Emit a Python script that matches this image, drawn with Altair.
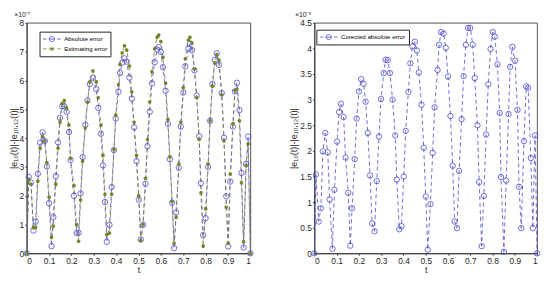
import altair as alt
import pandas as pd

# ---------------- data ----------------
t_left = [0, 0.009, 0.019, 0.03, 0.04, 0.05, 0.06, 0.071, 0.081, 0.09,
          0.1, 0.111, 0.119, 0.13, 0.14, 0.149, 0.158, 0.168, 0.178, 0.189,
          0.196, 0.211, 0.223, 0.232, 0.241, 0.25, 0.262, 0.272, 0.282, 0.296,
          0.311, 0.32, 0.332, 0.341, 0.35, 0.358, 0.37, 0.38, 0.39, 0.398,
          0.41, 0.417, 0.427, 0.437, 0.447, 0.459, 0.47, 0.48, 0.491, 0.501,
          0.51, 0.52, 0.531, 0.54, 0.55, 0.56, 0.572, 0.583, 0.59, 0.6,
          0.609, 0.621, 0.631, 0.64, 0.65, 0.659, 0.668, 0.68, 0.689, 0.7,
          0.709, 0.723, 0.73, 0.739, 0.75, 0.76, 0.771, 0.779, 0.789, 0.8,
          0.811, 0.82, 0.83, 0.841, 0.85, 0.86, 0.872, 0.882, 0.892, 0.901,
          0.91, 0.922, 0.931, 0.94, 0.951, 0.96, 0.97, 0.981, 0.99, 1.0]

abs_err = [0, 2.65, 2.45, 0.79, 1.1, 2.76, 3.84, 4.2, 3.9, 3.02,
           1.74, 0.25, 1.26, 2.68, 3.85, 4.7, 5.1, 5.1, 4.91, 4.21,
           3.24, 2.0, 0.7, 0.72, 2.08, 3.34, 4.46, 5.3, 5.87, 6.1,
           5.7, 5.05, 4.15, 3.05, 1.78, 0.4, 0.99, 2.3, 3.58, 4.68,
           5.61, 6.26, 6.62, 6.77, 6.65, 6.1, 5.37, 4.37, 3.2, 1.86,
           0.48, 0.99, 2.41, 3.72, 4.91, 5.9, 6.63, 7.07, 7.16, 6.99,
           6.46, 5.64, 4.5, 3.27, 1.76, 0.18, 1.42, 2.97, 4.4, 5.58,
           6.49, 7.1, 7.27, 7.05, 6.35, 5.47, 4.06, 2.43, 0.63, 1.22,
           3.0, 4.6, 5.87, 6.71, 6.94, 6.54, 5.56, 4.01, 1.98, 0.24,
           2.49, 4.4, 5.62, 5.92, 4.97, 2.79, 0.2, 3.1, 4.05, 0]

est_err = [0, 2.55, 2.4, 0.9, 0.9, 2.5, 3.65, 4.05, 3.9, 3.15,
           1.95, 0.55, 0.95, 2.4, 3.65, 4.55, 5.2, 5.3, 5.05, 4.45,
           3.3, 2.35, 1.0, 0.42, 1.85, 3.2, 4.35, 5.25, 5.95, 6.33,
           5.95, 5.4, 4.45, 3.4, 2.05, 0.65, 0.7, 2.05, 3.6, 4.8,
           5.85, 6.55, 6.95, 7.2, 7.05, 6.5, 5.6, 4.55, 3.4, 2.0,
           0.45, 1.0, 2.6, 3.95, 5.25, 6.3, 7.1, 7.5, 7.57, 7.35,
           6.8, 5.9, 4.65, 3.35, 1.8, 0.35, 1.25, 3.1, 4.55, 5.75,
           6.75, 7.4, 7.5, 7.3, 6.4, 5.4, 3.95, 2.1, 0.25, 1.55,
           3.1, 4.6, 5.8, 6.6, 6.9, 6.7, 5.5, 3.9, 1.6, 0.35,
           2.75, 4.5, 5.65, 5.7, 4.6, 2.45, 0.4, 3.05, 3.8, 0]

t_right = [0, 0.007, 0.019, 0.029, 0.038, 0.049, 0.06, 0.068, 0.081, 0.09,
           0.102, 0.111, 0.119, 0.131, 0.14, 0.152, 0.161, 0.169, 0.181, 0.19,
           0.2, 0.21, 0.221, 0.23, 0.24, 0.25, 0.259, 0.27, 0.28, 0.29,
           0.299, 0.311, 0.32, 0.329, 0.339, 0.351, 0.363, 0.37, 0.381, 0.391,
           0.401, 0.41, 0.422, 0.431, 0.44, 0.451, 0.46, 0.469, 0.481, 0.491,
           0.5, 0.509, 0.521, 0.531, 0.54, 0.553, 0.56, 0.569, 0.58, 0.59,
           0.6, 0.611, 0.621, 0.63, 0.64, 0.65, 0.661, 0.67, 0.68, 0.69,
           0.7, 0.711, 0.72, 0.732, 0.74, 0.751, 0.761, 0.771, 0.781, 0.791,
           0.801, 0.81, 0.822, 0.832, 0.838, 0.851, 0.861, 0.872, 0.879, 0.889,
           0.901, 0.912, 0.919, 0.929, 0.941, 0.951, 0.96, 0.972, 0.981, 0.991,
           1.0]

cor_err = [0, 1.54, 0.62, 0.88, 1.99, 2.35, 1.97, 1.05, 0.09, 1.24,
           2.18, 2.76, 2.92, 2.66, 1.87, 1.18, 0.15, 0.88, 1.84, 2.63,
           3.16, 3.4, 3.31, 2.96, 2.35, 1.52, 0.58, 0.43, 1.41, 2.28,
           3.01, 3.52, 3.78, 3.77, 3.52, 3.0, 2.3, 1.44, 0.47, 0.53,
           1.5, 2.39, 3.15, 3.71, 4.04, 4.13, 3.96, 3.53, 2.9, 2.06,
           1.11, 0.07, 0.96, 1.96, 2.85, 3.58, 4.07, 4.32, 4.29, 4.01,
           3.45, 2.68, 1.71, 0.62, 0.49, 1.61, 2.62, 3.46, 4.07, 4.4,
           4.4, 4.07, 3.42, 2.5, 1.39, 0.14, 1.12, 2.32, 3.3, 3.99,
           4.32, 4.23, 3.69, 2.74, 1.49, 0.03, 1.42, 2.72, 3.64, 4.03,
           3.76, 2.8, 1.3, 0.49, 2.19, 3.26, 3.23, 1.86, 0.49, 2.3,
           0]

left_names = ["Absolute error", "Estimating error"]
right_names = ["Corected absolute error"]
x_ticks = [0, 0.1, 0.2, 0.3, 0.4, 0.5, 0.6, 0.7, 0.8, 0.9, 1]
y_ticks_left = [0, 1, 2, 3, 4, 5, 6, 7, 8]
y_ticks_right = [0, 0.5, 1, 1.5, 2, 2.5, 3, 3.5, 4, 4.5]
y_title = "|e\u2081\u2080(t)|-|e\u2081\u2080,\u2081\u2082(t)|"

# ---------------- styling ----------------
BLUE = "#4a4acc"
OLIVE_LINE = "#857a3a"
OLIVE_PT = "#70862a"
FONT = "Liberation Sans"
ASTER = "M0,-1L0,1M-0.87,-0.5L0.87,0.5M-0.87,0.5L0.87,-0.5"
LEG_CIRC = ("M-1,0L-0.1,0M0.5,0L2,0M2.6,0L3.5,0"
            "M0.6,0A0.65,0.65,0,1,1,1.9,0A0.65,0.65,0,1,1,0.6,0")
LEG_STAR = ("M-1,0L-0.1,0M0.5,0L2,0M2.6,0L3.5,0"
            "M1.25,-0.6L1.25,0.6M0.73,-0.3L1.77,0.3M0.73,0.3L1.77,-0.3")

df_abs = pd.DataFrame({"t": t_left, "v": abs_err, "series": left_names[0]})
df_est = pd.DataFrame({"t": t_left, "v": est_err, "series": left_names[1]})
df_left = pd.concat([df_abs, df_est], ignore_index=True)
df_cor = pd.DataFrame({"t": t_right, "v": cor_err, "series": right_names[0]})

xenc = alt.X("t:Q", scale=alt.Scale(domain=[0, 1], nice=False),
             axis=alt.Axis(values=x_ticks, format="~g", title="t"))


def yenc(dom, ticks, title):
    return alt.Y("v:Q", scale=alt.Scale(domain=dom, nice=False),
                 axis=alt.Axis(values=ticks, format="~g", title=title))


def legend(x, y):
    return alt.Legend(title=None, orient="none", legendX=x, legendY=y,
                      strokeColor="#262626", fillColor="white", padding=3,
                      labelFont=FONT, labelFontSize=6.2, labelColor="#000",
                      symbolSize=64, symbolStrokeWidth=0.8, rowPadding=1,
                      labelOffset=13, cornerRadius=0)


def exp_title(txt):
    return alt.TitleParams(txt, anchor="start", fontSize=7, fontWeight="normal",
                           font=FONT, color="#262626", offset=1, dx=5)


yl = yenc([0, 8], y_ticks_left, y_title)
line_abs = alt.Chart(df_abs).mark_line(color=BLUE, strokeDash=[4, 3], strokeWidth=0.8).encode(x=xenc, y=yl)
line_est = alt.Chart(df_est).mark_line(color=OLIVE_LINE, strokeDash=[4, 3], strokeWidth=0.8).encode(x=xenc, y=yl)
pts_abs = alt.Chart(df_abs).mark_point(shape="circle", filled=False, color=BLUE, size=30, strokeWidth=0.8, opacity=1).encode(x=xenc, y=yl)
pts_est = alt.Chart(df_est).mark_point(shape=ASTER, filled=False, color=OLIVE_PT, size=13, strokeWidth=1.6, opacity=1).encode(x=xenc, y=yl)
leg_left = alt.Chart(df_left).transform_filter("datum.series == 'none'").mark_point(filled=False, opacity=1).encode(
    x=xenc, y=yl,
    shape=alt.Shape("series:N", scale=alt.Scale(domain=left_names, range=[LEG_CIRC, LEG_STAR]), legend=legend(13, 9)),
    color=alt.Color("series:N", scale=alt.Scale(domain=left_names, range=[BLUE, OLIVE_PT]), legend=legend(13, 9)),
)
left = alt.layer(line_abs, line_est, pts_abs, pts_est, leg_left).properties(
    width=227, height=234, title=exp_title("\u00d710\u207b\u2077"))

yr = yenc([0, 4.5], y_ticks_right, y_title)
line_cor = alt.Chart(df_cor).mark_line(color=BLUE, strokeDash=[4, 3], strokeWidth=0.8).encode(x=xenc, y=yr)
pts_cor = alt.Chart(df_cor).mark_point(shape="circle", filled=False, color=BLUE, size=30, strokeWidth=0.8, opacity=1).encode(x=xenc, y=yr)
leg_right = alt.Chart(df_cor).transform_filter("datum.series == 'none'").mark_point(filled=False, opacity=1).encode(
    x=xenc, y=yr,
    shape=alt.Shape("series:N", scale=alt.Scale(domain=right_names, range=[LEG_CIRC]), legend=legend(2, 7)),
    color=alt.Color("series:N", scale=alt.Scale(domain=right_names, range=[BLUE]), legend=legend(2, 7)),
)
right = alt.layer(line_cor, pts_cor, leg_right).properties(
    width=226, height=234, title=exp_title("\u00d710\u207b\u2078"))

chart = alt.hconcat(left, right, spacing=33).resolve_scale(
    color="independent", shape="independent", x="independent", y="independent"
).resolve_legend(color="independent", shape="independent").properties(
    padding={"left": 0, "top": 0, "right": 0, "bottom": 0}
).configure_view(stroke="#262626", strokeWidth=0.8).configure_axis(
    grid=False, labelFont=FONT, labelFontSize=8.5, labelColor="#262626",
    titleFont=FONT, titleFontSize=9, titleFontWeight="normal", titleColor="#262626",
    domainColor="#262626", domainWidth=0.8, tickColor="#262626", tickSize=2, tickWidth=0.8,
    labelPadding=1, titlePadding=1
).configure_axisY(titlePadding=1)

chart.save("out.html", embed_options={"renderer": "svg", "actions": False})
